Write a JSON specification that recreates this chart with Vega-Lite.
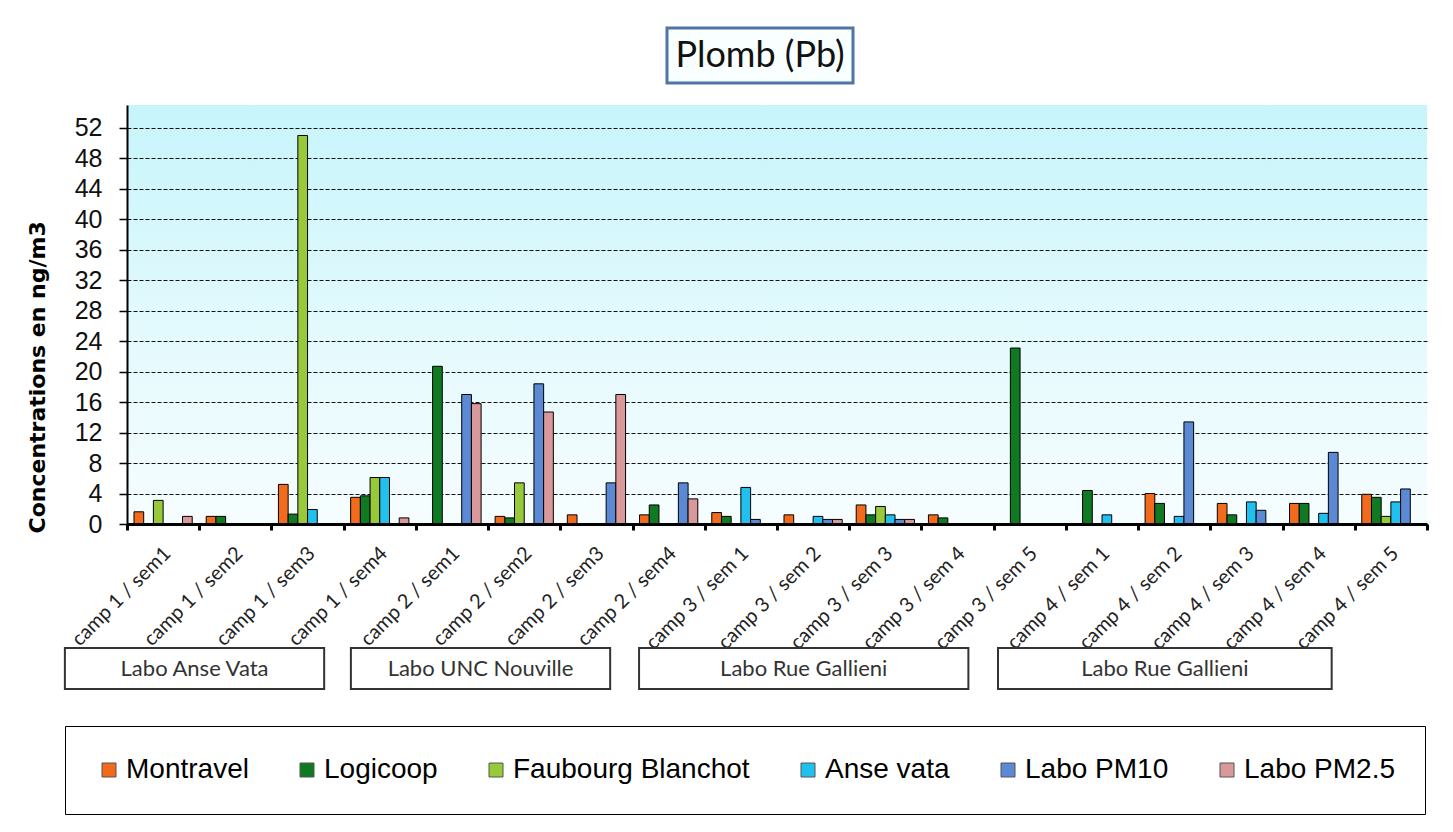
{
  "$schema": "https://vega.github.io/schema/vega-lite/v6.json",
  "background": "white",
  "padding": {"left": 26, "top": 21, "right": 5, "bottom": 5},
  "spacing": 22,
  "bounds": "flush",
  "config": {"view": {"stroke": null}},
  "vconcat": [
    {
      "width": 1300,
      "height": 55,
      "data": {"values": [{"t": "Plomb (Pb)"}]},
      "layer": [
        {
          "mark": {"type": "point", "shape": "M-1,-0.2957L1,-0.2957L1,0.2957L-1,0.2957Z", "size": 34596, "filled": true, "fill": "#f9feff", "stroke": "#4f74a8", "strokeWidth": 3, "opacity": 1, "xOffset": -17},
          "encoding": {}
        },
        {
          "mark": {"type": "text", "font": "Lato", "fontSize": 36, "color": "#111", "xOffset": -17},
          "encoding": {"text": {"field": "t"}}
        }
      ]
    },
    {
      "spacing": 124,
      "bounds": "flush",
      "vconcat": [
        {
          "width": 1300,
          "height": 419,
          "view": {"stroke": null, "fill": {"gradient": "linear", "x1": 0, "y1": 0, "x2": 0, "y2": 1, "stops": [{"offset": 0, "color": "#c6f5fb"}, {"offset": 0.6, "color": "#e6fafd"}, {"offset": 1, "color": "#f6fdff"}]}},
          "data": {"values": [
            {"cat": "camp 1 / sem1", "serie": "Montravel", "value": 1.6},
            {"cat": "camp 1 / sem1", "serie": "Faubourg Blanchot", "value": 3.1},
            {"cat": "camp 1 / sem1", "serie": "Labo PM2.5", "value": 1.0},
            {"cat": "camp 1 / sem2", "serie": "Montravel", "value": 1.0},
            {"cat": "camp 1 / sem2", "serie": "Logicoop", "value": 1.0},
            {"cat": "camp 1 / sem3", "serie": "Montravel", "value": 5.2},
            {"cat": "camp 1 / sem3", "serie": "Logicoop", "value": 1.3},
            {"cat": "camp 1 / sem3", "serie": "Faubourg Blanchot", "value": 51.0},
            {"cat": "camp 1 / sem3", "serie": "Anse vata", "value": 1.9},
            {"cat": "camp 1 / sem4", "serie": "Montravel", "value": 3.5},
            {"cat": "camp 1 / sem4", "serie": "Logicoop", "value": 3.7},
            {"cat": "camp 1 / sem4", "serie": "Faubourg Blanchot", "value": 6.1},
            {"cat": "camp 1 / sem4", "serie": "Anse vata", "value": 6.1},
            {"cat": "camp 1 / sem4", "serie": "Labo PM2.5", "value": 0.8},
            {"cat": "camp 2 / sem1", "serie": "Logicoop", "value": 20.7},
            {"cat": "camp 2 / sem1", "serie": "Labo PM10", "value": 17.0},
            {"cat": "camp 2 / sem1", "serie": "Labo PM2.5", "value": 15.8},
            {"cat": "camp 2 / sem2", "serie": "Montravel", "value": 1.0},
            {"cat": "camp 2 / sem2", "serie": "Logicoop", "value": 0.8},
            {"cat": "camp 2 / sem2", "serie": "Faubourg Blanchot", "value": 5.4},
            {"cat": "camp 2 / sem2", "serie": "Labo PM10", "value": 18.4},
            {"cat": "camp 2 / sem2", "serie": "Labo PM2.5", "value": 14.7},
            {"cat": "camp 2 / sem3", "serie": "Montravel", "value": 1.2},
            {"cat": "camp 2 / sem3", "serie": "Labo PM10", "value": 5.4},
            {"cat": "camp 2 / sem3", "serie": "Labo PM2.5", "value": 17.0},
            {"cat": "camp 2 / sem4", "serie": "Montravel", "value": 1.2},
            {"cat": "camp 2 / sem4", "serie": "Logicoop", "value": 2.5},
            {"cat": "camp 2 / sem4", "serie": "Labo PM10", "value": 5.4},
            {"cat": "camp 2 / sem4", "serie": "Labo PM2.5", "value": 3.3},
            {"cat": "camp 3 / sem 1", "serie": "Montravel", "value": 1.5},
            {"cat": "camp 3 / sem 1", "serie": "Logicoop", "value": 1.0},
            {"cat": "camp 3 / sem 1", "serie": "Anse vata", "value": 4.8},
            {"cat": "camp 3 / sem 1", "serie": "Labo PM10", "value": 0.6},
            {"cat": "camp 3 / sem 2", "serie": "Montravel", "value": 1.2},
            {"cat": "camp 3 / sem 2", "serie": "Anse vata", "value": 1.0},
            {"cat": "camp 3 / sem 2", "serie": "Labo PM10", "value": 0.6},
            {"cat": "camp 3 / sem 2", "serie": "Labo PM2.5", "value": 0.6},
            {"cat": "camp 3 / sem 3", "serie": "Montravel", "value": 2.5},
            {"cat": "camp 3 / sem 3", "serie": "Logicoop", "value": 1.2},
            {"cat": "camp 3 / sem 3", "serie": "Faubourg Blanchot", "value": 2.3},
            {"cat": "camp 3 / sem 3", "serie": "Anse vata", "value": 1.2},
            {"cat": "camp 3 / sem 3", "serie": "Labo PM10", "value": 0.6},
            {"cat": "camp 3 / sem 3", "serie": "Labo PM2.5", "value": 0.6},
            {"cat": "camp 3 / sem 4", "serie": "Montravel", "value": 1.2},
            {"cat": "camp 3 / sem 4", "serie": "Logicoop", "value": 0.8},
            {"cat": "camp 3 / sem 5", "serie": "Logicoop", "value": 23.1},
            {"cat": "camp 4 / sem 1", "serie": "Logicoop", "value": 4.4},
            {"cat": "camp 4 / sem 1", "serie": "Anse vata", "value": 1.2},
            {"cat": "camp 4 / sem 2", "serie": "Montravel", "value": 4.0},
            {"cat": "camp 4 / sem 2", "serie": "Logicoop", "value": 2.7},
            {"cat": "camp 4 / sem 2", "serie": "Anse vata", "value": 1.0},
            {"cat": "camp 4 / sem 2", "serie": "Labo PM10", "value": 13.4},
            {"cat": "camp 4 / sem 3", "serie": "Montravel", "value": 2.7},
            {"cat": "camp 4 / sem 3", "serie": "Logicoop", "value": 1.2},
            {"cat": "camp 4 / sem 3", "serie": "Anse vata", "value": 2.9},
            {"cat": "camp 4 / sem 3", "serie": "Labo PM10", "value": 1.8},
            {"cat": "camp 4 / sem 4", "serie": "Montravel", "value": 2.7},
            {"cat": "camp 4 / sem 4", "serie": "Logicoop", "value": 2.7},
            {"cat": "camp 4 / sem 4", "serie": "Anse vata", "value": 1.4},
            {"cat": "camp 4 / sem 4", "serie": "Labo PM10", "value": 9.4},
            {"cat": "camp 4 / sem 5", "serie": "Montravel", "value": 3.9},
            {"cat": "camp 4 / sem 5", "serie": "Logicoop", "value": 3.5},
            {"cat": "camp 4 / sem 5", "serie": "Faubourg Blanchot", "value": 1.0},
            {"cat": "camp 4 / sem 5", "serie": "Anse vata", "value": 2.9},
            {"cat": "camp 4 / sem 5", "serie": "Labo PM10", "value": 4.6}
          ]},
          "mark": {"type": "bar", "stroke": "black", "strokeWidth": 1},
          "encoding": {
            "x": {
              "field": "cat", "type": "nominal",
              "scale": {"domain": ["camp 1 / sem1", "camp 1 / sem2", "camp 1 / sem3", "camp 1 / sem4", "camp 2 / sem1", "camp 2 / sem2", "camp 2 / sem3", "camp 2 / sem4", "camp 3 / sem 1", "camp 3 / sem 2", "camp 3 / sem 3", "camp 3 / sem 4", "camp 3 / sem 5", "camp 4 / sem 1", "camp 4 / sem 2", "camp 4 / sem 3", "camp 4 / sem 4", "camp 4 / sem 5"], "paddingInner": 0, "paddingOuter": 0},
              "axis": {"title": null, "tickBand": "extent", "zindex": 1, "labelAngle": -45, "labelAlign": "right", "labelBaseline": "middle", "labelOffset": 4, "labelPadding": 20, "labelFont": "Lato", "labelFontSize": 20, "labelColor": "#222", "labelOverlap": false, "labelBound": false, "labelFlush": false, "labelLimit": 300, "domainColor": "black", "domainWidth": 3, "tickColor": "black", "tickWidth": 3, "tickSize": 6, "grid": false}
            },
            "xOffset": {"field": "serie", "type": "nominal", "scale": {"domain": ["Montravel", "Logicoop", "Faubourg Blanchot", "Anse vata", "Labo PM10", "Labo PM2.5"], "paddingInner": 0, "paddingOuter": 0.72}},
            "y": {
              "field": "value", "type": "quantitative",
              "scale": {"domain": [0, 55], "nice": false, "zero": true},
              "axis": {"title": "Concentrations en ng/m3", "values": [0, 4, 8, 12, 16, 20, 24, 28, 32, 36, 40, 44, 48, 52], "grid": true, "gridColor": "#111", "gridDash": [4, 2], "gridWidth": 1, "domainColor": "black", "domainWidth": 2, "tickColor": "black", "tickSize": 8, "tickWidth": 1.5, "labelFont": "Liberation Sans", "labelFontSize": 25, "labelPadding": 17, "labelColor": "#111", "titleFont": "DejaVu Sans", "titleFontSize": 22, "titleFontWeight": "bold", "titleColor": "black", "titleX": -90, "titleY": 428, "titleAlign": "left", "titleBaseline": "middle", "titleAngle": -90}
            },
            "color": {
              "field": "serie", "type": "nominal",
              "scale": {"domain": ["Montravel", "Logicoop", "Faubourg Blanchot", "Anse vata", "Labo PM10", "Labo PM2.5"], "range": ["#f26b1d", "#107a22", "#97c93a", "#22c0ee", "#5b89d3", "#d9999a"]},
              "legend": {"title": null, "orient": "none", "legendX": -62, "legendY": 698, "direction": "horizontal", "columns": 6, "symbolType": "square", "symbolSize": 196, "symbolStrokeColor": "#555", "symbolStrokeWidth": 1, "labelFont": "Liberation Sans", "labelFontSize": 28, "labelColor": "black", "labelOffset": 3, "labelLimit": 400, "columnPadding": 44, "padding": 30, "strokeColor": "black", "fillColor": "white"}
            }
          }
        },
        {
          "width": 1300,
          "height": 41,
          "data": {"values": [
            {"lab": "Labo Anse Vata", "from": -0.86, "to": 2.73},
            {"lab": "Labo UNC Nouville", "from": 3.1, "to": 6.69},
            {"lab": "Labo Rue Gallieni", "from": 7.09, "to": 11.65},
            {"lab": "Labo Rue Gallieni", "from": 12.06, "to": 16.68}
          ]},
          "transform": [{"calculate": "(datum.from + datum.to) / 2", "as": "mid"}],
          "layer": [
            {
              "mark": {"type": "rect", "fill": "white", "stroke": "#333", "strokeWidth": 2},
              "encoding": {
                "x": {"field": "from", "type": "quantitative", "scale": {"domain": [0, 18], "nice": false, "zero": false}, "axis": null},
                "x2": {"field": "to"}
              }
            },
            {
              "mark": {"type": "text", "font": "Lato", "fontSize": 22, "color": "#333"},
              "encoding": {
                "x": {"field": "mid", "type": "quantitative", "axis": null},
                "text": {"field": "lab"}
              }
            }
          ]
        }
      ]
    }
  ]
}
